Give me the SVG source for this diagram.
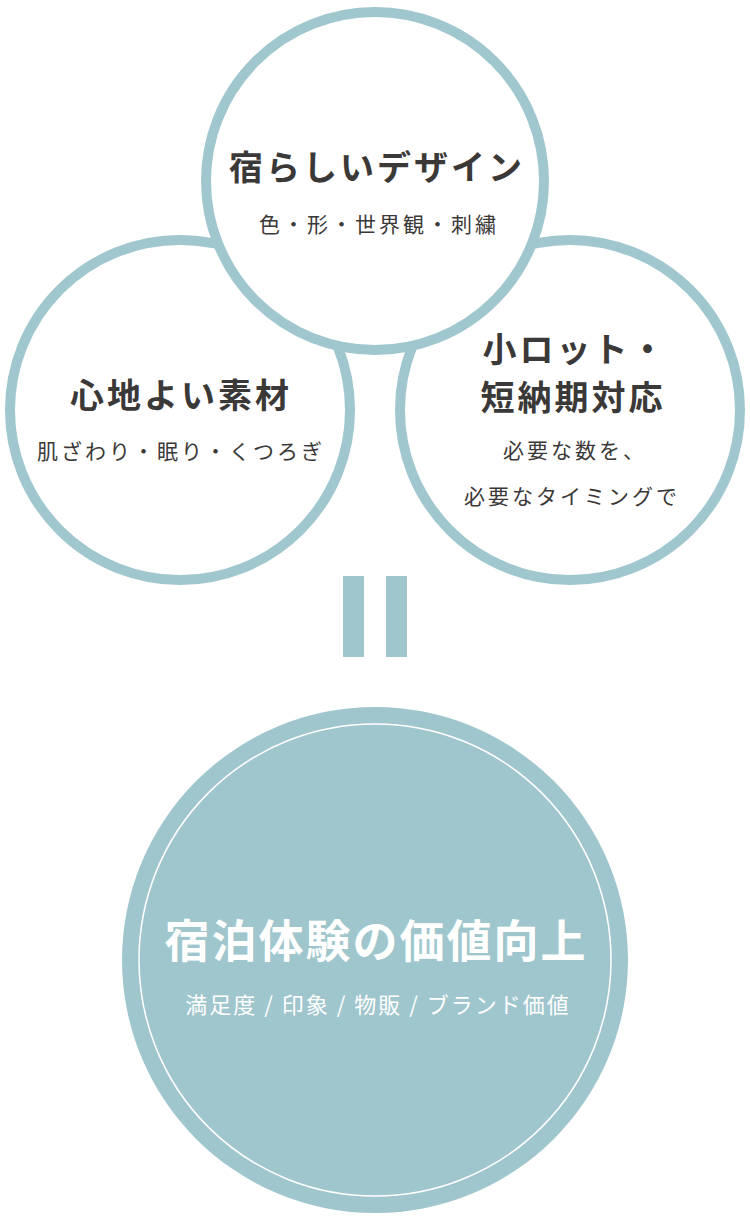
<svg xmlns="http://www.w3.org/2000/svg" width="750" height="1224" viewBox="0 0 750 1224">
<style>
.ring{fill:#fff;stroke:#a0c7ce;stroke-width:10}
.t{font-family:"Noto Sans CJK JP","Noto Sans",sans-serif;text-anchor:middle;fill:#3b3838}
.h{font-size:34px;font-weight:700;letter-spacing:3px}
.s{font-size:21px;font-weight:400;letter-spacing:3px}
.w{fill:#fff}
</style>
<rect width="750" height="1224" fill="#fff"/>
<g id="node-left">
<circle class="ring" cx="180" cy="410" r="170"/>
<text class="t h" x="181" y="408">心地よい素材</text>
<text class="t s" x="181" y="459">肌ざわり・眠り・くつろぎ</text>
</g>
<g id="node-right">
<circle class="ring" cx="570" cy="410" r="170"/>
<text class="t h" x="575" y="362">小ロット・</text>
<text class="t h" x="573" y="410">短納期対応</text>
<text class="t s" x="575" y="458">必要な数を、</text>
<text class="t s" x="572" y="504">必要なタイミングで</text>
</g>
<g id="node-top">
<circle class="ring" cx="375" cy="181" r="169"/>
<text class="t h" x="377" y="180">宿らしいデザイン</text>
<text class="t s" x="379" y="232">色・形・世界観・刺繍</text>
</g>
<g id="connectors">
<rect x="343" y="576" width="21" height="81" fill="#a0c6cd"/>
<rect x="386" y="576" width="21" height="81" fill="#a0c6cd"/>
</g>
<g id="node-bottom">
<circle cx="375" cy="960" r="253" fill="#a0c6cd"/>
<circle cx="375" cy="960" r="236" fill="none" stroke="#fff" stroke-width="1.5"/>
<text class="t w" x="376" y="958" style="font-size:45px;font-weight:700;letter-spacing:2px">宿泊体験の価値向上</text>
<text class="t w" x="378" y="1013" style="font-size:22px;font-weight:400;letter-spacing:2px">満足度 / 印象 / 物販 / ブランド価値</text>
</g>
</svg>
